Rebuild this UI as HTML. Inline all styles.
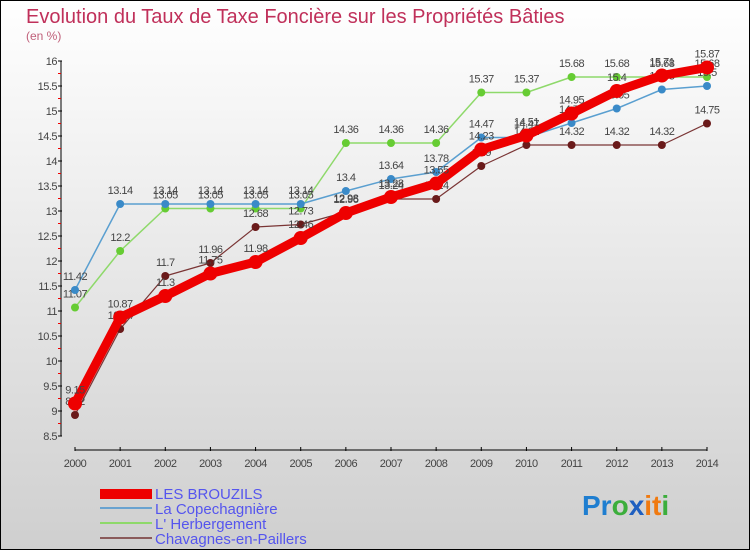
<!DOCTYPE html>
<html><head><meta charset="utf-8"><style>
body{margin:0}
#wrap{width:750px;height:550px;position:relative;font-family:"Liberation Sans",sans-serif;}
</style></head><body>
<div id="wrap">
<svg id="svg" width="750" height="550" xmlns="http://www.w3.org/2000/svg">
<defs><linearGradient id="bg" x1="0" y1="0" x2="0" y2="1"><stop offset="0" stop-color="#ffffff"/><stop offset="1" stop-color="#cfcfcf"/></linearGradient></defs>
<rect x="0.5" y="0.5" width="749" height="549" fill="url(#bg)" stroke="#000"/>
<text x="26" y="23" font-size="20" fill="#c0305a">Evolution du Taux de Taxe Foncière sur les Propriétés Bâties</text>
<text x="26" y="40" font-size="12" fill="#c0607a">(en %)</text>
<g id="axes"></g><g id="series"></g>
<g font-size="15" fill="#5555ee">
<rect x="100" y="489" width="52" height="10" fill="#ee0000"/>
<text x="155" y="499">LES BROUZILS</text>
<rect x="100" y="507" width="52" height="2" fill="#6aa3d0"/>
<text x="155" y="514">La Copechagnière</text>
<rect x="100" y="522" width="52" height="2" fill="#8ed96a"/>
<text x="155" y="529">L' Herbergement</text>
<rect x="100" y="537" width="52" height="2" fill="#8a5a5a"/>
<text x="155" y="544">Chavagnes-en-Paillers</text>
</g>
<g font-size="28" font-weight="bold">
<text x="582" y="515"><tspan fill="#1f7ed0">Pr</tspan><tspan fill="#3cae3c">o</tspan><tspan fill="#1f5fc0">x</tspan><tspan fill="#f07a10">it</tspan><tspan fill="#3cae3c">i</tspan></text>
</g>
</svg>
</div>
<script>
const years=["2000","2001","2002","2003","2004","2005","2006","2007","2008","2009","2010","2011","2012","2013","2014"];
const brouzils=[9.15,10.87,11.3,11.75,11.98,12.46,12.96,13.28,13.55,14.23,14.51,14.95,15.4,15.71,15.87];
const copech=[11.42,13.14,13.14,13.14,13.14,13.14,13.4,13.64,13.78,14.47,14.47,14.76,15.05,15.43,15.5];
const herb=[11.07,12.2,13.05,13.05,13.05,13.05,14.36,14.36,14.36,15.37,15.37,15.68,15.68,15.68,15.68];
const chav=[8.92,10.64,11.7,11.96,12.68,12.73,12.98,13.24,13.24,13.9,14.32,14.32,14.32,14.32,14.75];
const yTicks=[8.5,9,9.5,10,10.5,11,11.5,12,12.5,13,13.5,14,14.5,15,15.5,16];
const NS="http://www.w3.org/2000/svg";
const X=i=>75+i*(632/14);
const Y=v=>61+(16-v)*50;
function mk(t,a,p){const e=document.createElementNS(NS,t);for(const k in a)e.setAttribute(k,a[k]);p.appendChild(e);return e;}
const ax=document.getElementById('axes');
let yl=mk('line',{x1:61,y1:61,x2:61,y2:436,stroke:'#000'},ax);


let xl=mk('line',{x1:75,y1:450,x2:707,y2:450,stroke:'#000'},ax);


yTicks.forEach(v=>{
 mk('line',{x1:58,x2:62,y1:Y(v),y2:Y(v),stroke:'#000'},ax);
 if(v<16)mk('line',{x1:58,x2:61,y1:Y(v+0.25),y2:Y(v+0.25),stroke:'#e00'},ax);
 const t=mk('text',{x:57,y:Y(v)+4,'font-size':11,fill:'#444','text-anchor':'end','letter-spacing':'-0.5'},ax);
 t.textContent=String(v);
 
 
});
years.forEach((y,i)=>{
 mk('line',{x1:X(i),x2:X(i),y1:447,y2:451,stroke:'#000'},ax);
 const t=mk('text',{x:X(i),y:467,'font-size':11,fill:'#444','text-anchor':'middle','letter-spacing':'-0.5'},ax);
 t.textContent=y;
 
 
});
const sg=document.getElementById('series');
function draw(vals,name,color,dot,w,r){
 const g=mk('g',{},sg);
 
 
 mk('polyline',{points:vals.map((v,i)=>X(i)+','+Y(v)).join(' '),fill:'none',stroke:color,'stroke-width':w,'stroke-linejoin':'round'},g);
 vals.forEach((v,i)=>{
  const c=mk('circle',{cx:X(i),cy:Y(v),r:r,fill:dot},g);
  
  
  const t=mk('text',{x:X(i),y:Y(v)-10,'font-size':11,fill:'#444','text-anchor':'middle','letter-spacing':'-0.5'},g);
  t.textContent=String(v);
  
  
 });
}
draw(herb,'l-herbergement','#8ed96a','#66cc33',1.5,4);
draw(copech,'la-copechagniere','#5a9fd0','#3a8ac8',1.5,4);
draw(chav,'chavagnes','#7a3535','#6a1a1a',1.2,4);
draw(brouzils,'les-brouzils','#ee0000','#ee0000',9,7);
</script>
</body></html>
